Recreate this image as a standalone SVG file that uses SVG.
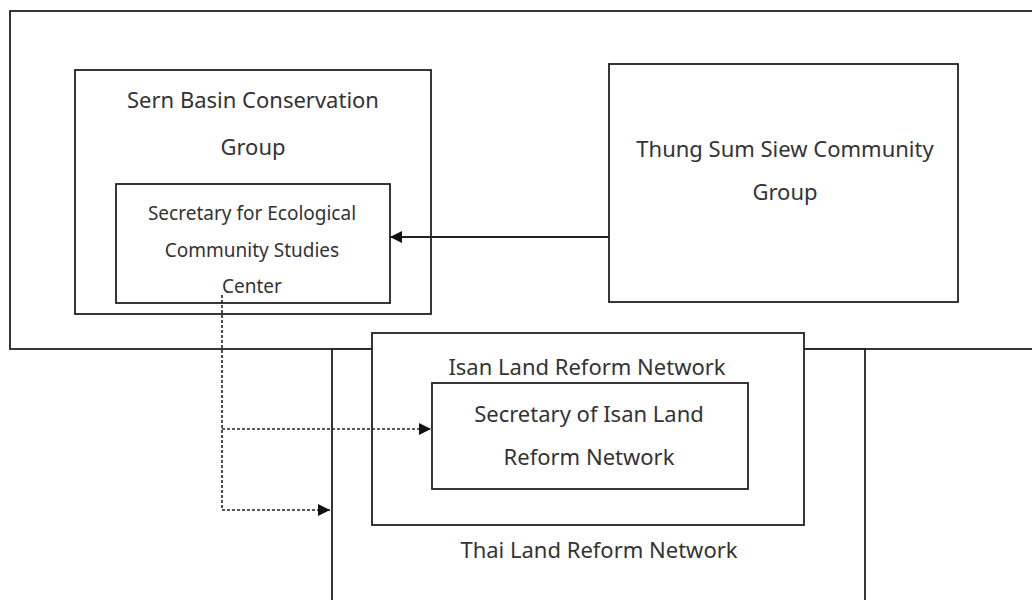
<svg xmlns="http://www.w3.org/2000/svg" width="1032" height="600" viewBox="0 0 1032 600">
<defs>
<style>
.box{fill:#fff;stroke:#222;stroke-width:1.8}
.t{font-family:"Noto Sans","Open Sans",sans-serif;font-size:22px;fill:#333;text-anchor:middle}
.s{font-size:19px}
.solid{stroke:#222;stroke-width:1.8;fill:none}
.dash{stroke:#222;stroke-width:1.6;fill:none;stroke-dasharray:3 2}
</style>
<marker id="ah" markerWidth="12" markerHeight="12" refX="12" refY="6" orient="auto" markerUnits="userSpaceOnUse">
<path d="M0,0 L12,6 L0,12 z" fill="#111"/>
</marker>
</defs>
<rect width="1032" height="600" fill="#fff"/>
<g id="outer-top"><rect class="box" x="10" y="11" width="1040" height="338"/></g>
<g id="thai-land-reform-network">
<rect class="box" x="332" y="349" width="533" height="280"/>
<text class="t" x="599" y="558">Thai Land Reform Network</text>
</g>
<g id="isan-land-reform-network">
<rect class="box" x="372" y="333" width="432" height="192"/>
<text class="t" x="587" y="375">Isan Land Reform Network</text>
</g>
<g id="secretary-isan">
<rect class="box" x="432" y="383" width="316" height="106"/>
<text class="t" x="589" y="422">Secretary of Isan Land</text>
<text class="t" x="589" y="465">Reform Network</text>
</g>
<g id="sern-basin">
<rect class="box" x="75" y="70" width="356" height="244"/>
<text class="t" x="253" y="108">Sern Basin Conservation</text>
<text class="t" x="253" y="155">Group</text>
</g>
<g id="secretary-eco">
<rect class="box" x="116" y="184" width="274" height="119"/>
<text class="t s" x="252" y="220">Secretary for Ecological</text>
<text class="t s" x="252" y="257">Community Studies</text>
<text class="t s" x="252" y="293">Center</text>
</g>
<g id="thung-sum-siew">
<rect class="box" x="609" y="64" width="349" height="238"/>
<text class="t" x="785" y="157">Thung Sum Siew Community</text>
<text class="t" x="785" y="200">Group</text>
</g>
<g id="connectors">
<line class="solid" x1="609" y1="237" x2="390" y2="237" marker-end="url(#ah)"/>
<path class="dash" d="M222,295 V510"/>
<line class="dash" x1="222" y1="429" x2="431" y2="429" marker-end="url(#ah)"/>
<line class="dash" x1="222" y1="510" x2="330" y2="510" marker-end="url(#ah)"/>
</g>
</svg>
